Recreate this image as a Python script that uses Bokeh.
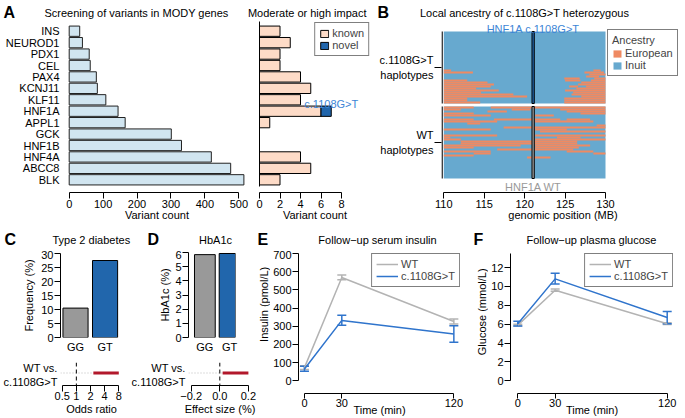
import math
from bokeh.plotting import figure
from bokeh.layouts import row, column
from bokeh.models import (ColumnDataSource, Legend, FixedTicker, Range1d, Span,
                          Whisker, TeeHead, CustomJSTickFormatter)
from bokeh.embed import file_html
from bokeh.resources import INLINE
from bokeh.core.properties import value

# ---------------------------------------------------------------- data
genes = ["INS", "NEUROD1", "PDX1", "CEL", "PAX4", "KCNJ11", "KLF11",
         "HNF1A", "APPL1", "GCK", "HNF1B", "HNF4A", "ABCC8", "BLK"]
variant_counts = [31, 39, 59, 62, 80, 83, 108, 144, 165, 301, 331, 419, 476, 515]
impact_known = [2, 3, 2, 2, 4, 5, 4, 6, 1, 0, 0, 4, 5, 2]
impact_novel = [0, 0, 0, 0, 0, 0, 0, 1, 0, 0, 0, 0, 0, 0]
novel_variant = "c.1108G>T"
count_ticks = [0, 100, 200, 300, 400, 500]
impact_ticks = [0, 2, 4, 6, 8]

haplotypes_per_group = 36
region = [110, 130]
variant_position = 121.05
position_ticks = [110, 115, 120, 125, 130]
group_labels = ["WT\nhaplotypes", "c.1108G>T\nhaplotypes"]
# (haplotype row from top, start MB, end MB) of European segments
carrier_european = [
    (19, 110.0, 110.9), (19, 128.5, 129.4),
    (20, 110.0, 113.6), (20, 127.4, 129.8),
    (21, 128.0, 130.0),
    (22, 127.6, 129.2),
    (23, 124.9, 126.8), (23, 128.6, 130.0),
    (24, 110.0, 112.9), (24, 125.0, 126.9), (24, 128.2, 130.0),
    (25, 110.0, 115.4), (25, 127.0, 130.0),
    (26, 110.0, 116.2), (26, 126.6, 130.0),
    (27, 110.0, 115.8), (27, 125.5, 126.6), (27, 127.6, 130.0),
    (28, 110.0, 114.0), (28, 126.4, 130.0),
    (29, 110.0, 116.8), (29, 125.0, 130.0),
    (30, 110.0, 114.6), (30, 126.0, 130.0),
    (31, 110.0, 118.6), (31, 125.8, 130.0),
    (32, 110.0, 120.3), (32, 127.0, 130.0),
    (33, 110.0, 112.9), (33, 124.9, 130.0),
    (34, 110.0, 112.9), (34, 124.9, 130.0),
    (35, 110.0, 114.5), (35, 124.9, 130.0),
]
wt_european = [
    (0, 110.0, 113.7), (0, 115.8, 130.0),
    (1, 110.0, 112.1), (1, 118.4, 120.7), (1, 124.4, 130.0),
    (2, 115.4, 117.8), (2, 125.2, 130.0),
    (3, 110.0, 113.7), (3, 126.9, 130.0),
    (4, 110.0, 115.8), (4, 121.3, 123.6),
    (6, 110.0, 113.7), (6, 116.2, 124.4), (6, 125.2, 128.1),
    (7, 110.0, 116.6), (7, 121.3, 128.5),
    (8, 112.9, 114.5),
    (9, 128.9, 130.0),
    (10, 117.4, 130.0),
    (11, 110.0, 115.8), (11, 121.3, 125.2),
    (12, 121.9, 130.0),
    (14, 110.0, 116.6), (14, 121.3, 130.0),
    (15, 110.0, 110.8), (15, 124.0, 126.9),
    (16, 110.0, 112.1), (16, 121.3, 130.0),
    (17, 112.1, 126.5),
    (18, 112.1, 126.5),
    (19, 110.0, 119.5), (19, 121.3, 128.1),
    (20, 110.0, 113.7), (20, 121.3, 126.7),
    (21, 116.6, 126.0),
    (22, 110.0, 115.8), (22, 125.2, 128.5),
    (23, 113.7, 115.8), (23, 128.5, 130.0),
    (24, 110.0, 113.7),
    (25, 120.3, 123.2),
]

genotypes = ["GG", "GT"]
t2d_frequency = [10.5, 27.5]
frequency_ticks = [0, 5, 10, 15, 20, 25, 30]
odds_ratio_ci = [2.3, 8.0]
odds_ratio_ticks = [0.5, 1, 2, 4, 8]

hba1c = [5.85, 5.93]
hba1c_ticks = [0, 1, 2, 3, 4, 5, 6]
effect_ci = [0.02, 0.20]
effect_ticks = [-0.2, 0.0, 0.2]
comparison_labels = ["WT vs.", "c.1108G>T"]

times = [0, 30, 120]
insulin_wt = [72, 568, 326]
insulin_wt_low = [62, 555, 312]
insulin_wt_high = [82, 582, 340]
insulin_mut = [65, 332, 257]
insulin_mut_low = [52, 305, 212]
insulin_mut_high = [80, 360, 302]
insulin_ticks = [0, 100, 200, 300, 400, 500, 600, 700]

glucose_wt = [5.9, 9.6, 6.05]
glucose_wt_low = [5.8, 9.48, 5.95]
glucose_wt_high = [6.0, 9.72, 6.15]
glucose_mut = [6.05, 10.8, 6.7]
glucose_mut_low = [5.8, 10.25, 6.05]
glucose_mut_high = [6.3, 11.4, 7.35]
glucose_ticks = [0, 2, 4, 6, 8, 10, 12]

# ---------------------------------------------------------------- style
FONT = "Liberation Sans"
FS = "11px"
LETTER = "16px"
BLACK = "black"
LIGHT_BLUE = "#d1e5f0"
PEACH = "#fddbc7"
DARK_BLUE = "#2166ac"
ORANGE = "#ef8a62"
INUIT = "#67a9cf"
GREY_BAR = "#999999"
RED = "#b2182b"
TEXT_BLUE = "#3d85d6"
WT_GREY = "#b3b3b3"
MUT_BLUE = "#2f74cc"

TOP = 21          # height of the first header strip


def base_fig(width, height, x_range, y_range, borders, x_axis_type="linear", axes=True):
    l, r, t, b = borders
    kw = dict(width=width, height=height, x_range=x_range, y_range=y_range,
              x_axis_type=x_axis_type, output_backend="svg", toolbar_location=None,
              title=None, min_border_left=l, min_border_right=r, min_border_top=t,
              min_border_bottom=b, outline_line_color=None,
              background_fill_color="white", border_fill_color="white")
    if not axes:
        kw.update(x_axis_location=None, y_axis_location=None)
    p = figure(**kw)
    p.xgrid.visible = False
    p.ygrid.visible = False
    return p


def make_fig(box, frm, x_range, y_range, x_axis_type="linear"):
    bx0, by0, bx1, by1 = [round(v) for v in box]
    fx0, fy0, fx1, fy1 = [round(v) for v in frm]
    return base_fig(bx1 - bx0, by1 - by0, x_range, y_range,
                    (fx0 - bx0, bx1 - fx1, fy0 - by0, by1 - fy1), x_axis_type)


def make_canvas(x0, y0, x1, y1):
    # text-only strip; ranges in page pixels (y downwards)
    return base_fig(x1 - x0, y1 - y0, Range1d(x0, x1), Range1d(y1, y0), (0, 0, 0, 0), axes=False)


def put(p, x, y, text, size=FS, color=BLACK, align="center", bold=False, angle=0.0):
    p.text(x=[x], y=[y], text=[text], text_font=value(FONT), text_font_size=value(size),
           text_color=color, text_align=align, text_baseline="middle",
           text_font_style="bold" if bold else "normal", angle=angle)


def style_axis(ax, ticks, bounds=None, tick_out=6, standoff=1, line=True,
               ticks_visible=True, labels=True, label=None, label_standoff=0):
    ax.ticker = FixedTicker(ticks=list(ticks))
    ax.axis_line_color = BLACK if line else None
    ax.axis_line_width = 1
    ax.major_tick_line_color = BLACK if ticks_visible else None
    ax.major_tick_out = tick_out if ticks_visible else 0
    ax.major_tick_in = 0
    ax.minor_tick_line_color = None
    ax.major_label_standoff = standoff
    ax.major_label_text_font = FONT
    ax.major_label_text_font_size = FS
    ax.major_label_text_color = BLACK if labels else None
    if bounds is not None:
        ax.bounds = bounds
    if label is not None:
        ax.axis_label = label
        ax.axis_label_text_font = FONT
        ax.axis_label_text_font_size = FS
        ax.axis_label_text_font_style = "normal"
        ax.axis_label_text_color = BLACK
        ax.axis_label_standoff = label_standoff


def make_legend(items, location, **kw):
    opts = dict(location=location, margin=0, padding=4, spacing=0,
                label_text_font=FONT, label_text_font_size=FS, label_height=11,
                label_standoff=3, glyph_width=10, glyph_height=9,
                border_line_color=BLACK, border_line_width=1,
                background_fill_color="white", background_fill_alpha=1.0)
    opts.update(kw)
    return Legend(items=items, **opts)


def comparison_axis(p):
    # two right-aligned lines left of the interval ("WT vs." above, "c.1108G>T" below)
    ax = p.yaxis[0]
    style_axis(ax, [5.5 / 12.5, -8.5 / 12.5], line=False, ticks_visible=False, standoff=3)
    ax.formatter = CustomJSTickFormatter(args=dict(labels=comparison_labels),
                                         code="return tick > 0 ? labels[0] : labels[1];")


# ================================================================ headers
H1 = make_canvas(0, 0, 685, TOP)
put(H1, 3, 11.5, "A", size=LETTER, bold=True, align="left")
put(H1, 136, 12.5, "Screening of variants in MODY genes")
put(H1, 306.7, 12.5, "Moderate or high impact")
put(H1, 377, 11.5, "B", size=LETTER, bold=True, align="left")
put(H1, 524, 12.5, "Local ancestry of c.1108G>T heterozygous")

H2 = make_canvas(0, 228, 685, 250)
put(H2, 4, 239, "C", size=LETTER, bold=True, align="left")
put(H2, 90.8, 239.5, "Type 2 diabetes")
put(H2, 147, 239, "D", size=LETTER, bold=True, align="left")
put(H2, 215, 239.5, "HbA1c")
put(H2, 257, 239, "E", size=LETTER, bold=True, align="left")
put(H2, 377, 239.5, "Follow\u2212up serum insulin")
put(H2, 473, 239, "F", size=LETTER, bold=True, align="left")
put(H2, 591, 239.5, "Follow\u2212up plasma glucose")

# ================================================================ panel A
row_unit = 11.43      # px per gene row
row0_px = 179.3       # px of the bottom gene row centre
yA = Range1d(-(192 - row0_px) / row_unit, (row0_px - TOP) / row_unit)
rows_y = [len(genes) - 1 - i for i in range(len(genes))]

pA1 = make_fig((0, TOP, 250, 228), (66.6, TOP, 246, 192),
               Range1d(-(68.3 - 66.6) / 0.34, (246 - 68.3) / 0.34), yA)
srcA = ColumnDataSource(dict(y=rows_y, count=variant_counts, known=impact_known))
pA1.hbar(y="y", left=0, right="count", height=0.9, source=srcA,
         fill_color=LIGHT_BLUE, line_color="#222222", line_width=1)
style_axis(pA1.xaxis[0], count_ticks, bounds=(count_ticks[0], count_ticks[-1]),
           label="Variant count", label_standoff=-2)
style_axis(pA1.yaxis[0], rows_y, line=False, ticks_visible=False, standoff=8)
pA1.yaxis[0].major_label_overrides = {y: g for y, g in zip(rows_y, genes)}

pA2 = make_fig((250, TOP, 372, 228), (259, TOP, 370, 192),
               Range1d(0, (370 - 259) / 10.25), yA)
r_known = pA2.hbar(y="y", left=0, right="known", height=0.9, source=srcA,
                   fill_color=PEACH, line_color=BLACK, line_width=1)
nov_y = [y for y, k in zip(rows_y, impact_novel) if k > 0]
nov_l = [k for k, m in zip(impact_known, impact_novel) if m > 0]
nov_r = [k + m for k, m in zip(impact_known, impact_novel) if m > 0]
r_novel = pA2.hbar(y=nov_y, left=nov_l, right=nov_r, height=0.9,
                   fill_color=DARK_BLUE, line_color=BLACK, line_width=1)
pA2.text(x=nov_r, y=[y + 0.45 for y in nov_y], text=[novel_variant] * len(nov_y),
         text_font=value(FONT), text_font_size=value(FS), text_color=TEXT_BLUE,
         text_align="center", text_baseline="alphabetic", y_offset=-2)
style_axis(pA2.xaxis[0], impact_ticks, bounds=(impact_ticks[0], impact_ticks[-1]),
           label="Variant count", label_standoff=-2)
style_axis(pA2.yaxis[0], [], bounds=(-(186 - row0_px) / row_unit, yA.end))
pA2.add_layout(make_legend([("known", [r_known]), ("novel", [r_novel])], "top_right", margin=1))

# ================================================================ panel B
gap = 1.5
n = haplotypes_per_group
bases = [0, n + gap]          # WT group, carrier group
mb_px = (605 - 443.3) / (region[1] - region[0])
pB = make_fig((372, TOP, 685, 228), (441, TOP, 684, 192),
              Range1d(region[0] - (443.3 - 441) / mb_px, region[0] + (684 - 443.3) / mb_px),
              Range1d(-7, bases[1] + n + (31 - TOP) / 2))
r_inuit = pB.quad(left=region[0], right=region[1], bottom=bases, top=[b + n for b in bases],
                  fill_color=INUIT, line_color=None)


def seg_source(segments, base):
    return ColumnDataSource(dict(y=[base + n - r - 0.5 for r, s, e in segments],
                                 left=[s for r, s, e in segments],
                                 right=[e for r, s, e in segments]))


r_euro = None
for segs, base in ((wt_european, bases[0]), (carrier_european, bases[1])):
    r_euro = pB.hbar(y="y", left="left", right="right", height=1.0,
                     source=seg_source(segs, base), fill_color=ORANGE, line_color=None)
pB.quad(left=variant_position - 0.14, right=variant_position + 0.14,
        bottom=bases, top=[b + n for b in bases],
        fill_color=["#a0a0a0", DARK_BLUE], line_color=BLACK, line_width=1)
xline = pB.x_range.start + 0.6 / mb_px
pB.segment(x0=[xline] * 2, x1=[xline] * 2, y0=bases, y1=[b + n for b in bases],
           line_color=BLACK, line_width=1.3)
pB.text(x=[variant_position], y=[bases[1] + n], text=["HNF1A c.1108G>T"],
        text_font=value(FONT), text_font_size=value(FS), text_color=TEXT_BLUE,
        text_align="center", text_baseline="alphabetic", y_offset=-3)
pB.text(x=[variant_position], y=[bases[0]], text=["HNF1A WT"],
        text_font=value(FONT), text_font_size=value(FS), text_color="#999999",
        text_align="center", text_baseline="top", y_offset=2)
style_axis(pB.xaxis[0], position_ticks, bounds=(region[0], region[1]),
           label="genomic position (MB)", label_standoff=-2)
group_centres = [b + n / 2 for b in bases]
style_axis(pB.yaxis[0], group_centres, line=False, tick_out=7, standoff=1)
pB.yaxis[0].major_label_overrides = {c: t for c, t in zip(group_centres, group_labels)}
pB.add_layout(make_legend([("European", [r_euro]), ("Inuit", [r_inuit])],
                          (607 - 441, 192 - 76),
                          title="Ancestry", title_text_font=FONT, title_text_font_size=FS,
                          title_text_font_style="normal", title_standoff=1))

# ================================================================ panel C
xpos = [i + 1 for i in range(len(genotypes))]
bar_colors = [GREY_BAR, DARK_BLUE]
pCb = make_fig((0, 250, 128.5, 355), (60, 253, 124, 337),
               Range1d(1 - (75.5 - 60) / 30.5, 1 + (124 - 75.5) / 30.5),
               Range1d(frequency_ticks[0], frequency_ticks[-1]))
pCb.vbar(x=xpos, top=t2d_frequency, width=0.85, fill_color=bar_colors,
         line_color=BLACK, line_width=1)
style_axis(pCb.xaxis[0], xpos, line=False, ticks_visible=False, standoff=3)
pCb.xaxis[0].major_label_overrides = {x: g for x, g in zip(xpos, genotypes)}
style_axis(pCb.yaxis[0], frequency_ticks, bounds=(frequency_ticks[0], frequency_ticks[-1]),
           tick_out=6, standoff=1, label="Frequency (%)", label_standoff=3)

dbl = 14.15
pCf = make_fig((0, 355, 128.5, 418), (60, 362, 122, 385),
               Range1d(0.5 * 2 ** (-(61.7 - 60) / dbl), 8 * 2 ** ((122 - 118.3) / dbl)),
               Range1d(-1, 10.5 / 12.5), x_axis_type="log")
pCf.segment(x0=[pCf.x_range.start], x1=[odds_ratio_ci[0]], y0=[0], y1=[0],
            line_color="#bbbbbb", line_dash="1 2", line_width=1)
pCf.segment(x0=[odds_ratio_ci[0]], x1=[odds_ratio_ci[1]], y0=[0], y1=[0],
            line_color=RED, line_width=3)
pCf.add_layout(Span(location=1, dimension="height", line_color=BLACK, line_dash="4 3", line_width=1))
style_axis(pCf.xaxis[0], odds_ratio_ticks, bounds=(odds_ratio_ticks[0], odds_ratio_ticks[-1]),
           tick_out=6, standoff=0, label="Odds ratio", label_standoff=0)
pCf.xaxis[0].formatter = CustomJSTickFormatter(code="return tick.toString();")
comparison_axis(pCf)

# ================================================================ panel D
pDb = make_fig((128.5, 250, 242, 355), (181.7, 252.3, 242, 336.7),
               Range1d(1 - (202.7 - 181.7) / 31.7, 1 + (242 - 202.7) / 31.7),
               Range1d(hba1c_ticks[0], hba1c_ticks[-1]))
pDb.vbar(x=xpos, top=hba1c, width=0.84, fill_color=bar_colors, line_color=BLACK, line_width=1)
style_axis(pDb.xaxis[0], xpos, line=False, ticks_visible=False, standoff=3)
pDb.xaxis[0].major_label_overrides = {x: g for x, g in zip(xpos, genotypes)}
style_axis(pDb.yaxis[0], hba1c_ticks, bounds=(hba1c_ticks[0], hba1c_ticks[-1]),
           tick_out=6, standoff=1, label="HbA1c (%)", label_standoff=1)

eff_px = 143.0
pDf = make_fig((128.5, 355, 257.5, 418), (188, 362, 251, 385),
               Range1d((188 - 219.3) / eff_px, (251 - 219.3) / eff_px),
               Range1d(-1, 10.5 / 12.5))
pDf.segment(x0=[pDf.x_range.start], x1=[effect_ci[0]], y0=[0], y1=[0],
            line_color="#bbbbbb", line_dash="1 2", line_width=1)
pDf.segment(x0=[effect_ci[0]], x1=[effect_ci[1]], y0=[0], y1=[0], line_color=RED, line_width=3)
pDf.add_layout(Span(location=0, dimension="height", line_color=BLACK, line_dash="4 3", line_width=1))
style_axis(pDf.xaxis[0], effect_ticks, bounds=(effect_ticks[0], effect_ticks[-1]),
           tick_out=6, standoff=0, label="Effect size (%)", label_standoff=0)
pDf.xaxis[0].formatter = CustomJSTickFormatter(
    code="return (tick < -1e-9 ? '\u2212' : '') + Math.abs(tick).toFixed(1);")
comparison_axis(pDf)


# ================================================================ panels E, F
def time_panel(box, frm, xr, yr, wt, wt_lo, wt_hi, mu, mu_lo, mu_hi, yticks):
    p = make_fig(box, frm, xr, yr)
    r_wt = p.line(times, wt, line_color=WT_GREY, line_width=1.5)
    src_wt = ColumnDataSource(dict(t=times, lo=wt_lo, hi=wt_hi))
    p.add_layout(Whisker(source=src_wt, base="t", lower="lo", upper="hi",
                         line_color=WT_GREY, line_width=1.5,
                         upper_head=TeeHead(size=9, line_color=WT_GREY, line_width=1.5),
                         lower_head=TeeHead(size=9, line_color=WT_GREY, line_width=1.5)))
    r_mu = p.line(times, mu, line_color=MUT_BLUE, line_width=1.5)
    src_mu = ColumnDataSource(dict(t=times, lo=mu_lo, hi=mu_hi))
    p.add_layout(Whisker(source=src_mu, base="t", lower="lo", upper="hi",
                         line_color=MUT_BLUE, line_width=1.5,
                         upper_head=TeeHead(size=9, line_color=MUT_BLUE, line_width=1.5),
                         lower_head=TeeHead(size=9, line_color=MUT_BLUE, line_width=1.5)))
    style_axis(p.xaxis[0], times, bounds=(times[0], times[-1]), tick_out=5, standoff=0,
               label="Time (min)", label_standoff=-6)
    style_axis(p.yaxis[0], yticks, bounds=(yticks[0], yr.end), tick_out=6, standoff=1)
    p.add_layout(make_legend([("WT", [r_wt]), ("c.1108G>T", [r_mu])], "top_right",
                             glyph_width=22, glyph_height=12, label_height=12, padding=4))
    return p


sE = make_canvas(258, 250, 270, 418)
put(sE, 263, 311, "Insulin (pmol/L)", angle=math.pi / 2)
pE = time_panel((270, 250, 466, 418), (296.7, 253.3, 460, 392.7),
                Range1d(-(302.7 - 296.7) / 1.255, (460 - 302.7) / 1.255),
                Range1d(-insulin_ticks[-1] * (392.7 - 380) / (380 - 253.3), insulin_ticks[-1]),
                insulin_wt, insulin_wt_low, insulin_wt_high,
                insulin_mut, insulin_mut_low, insulin_mut_high, insulin_ticks)

gl_px = (380 - 267.3) / 12.0
sF = make_canvas(466, 250, 488, 418)
put(sF, 481.7, 320, "Glucose (mmol/L)", angle=math.pi / 2)
pF = time_panel((488, 250, 685, 418), (510, 253.3, 673, 392.7),
                Range1d(-(517.3 - 510) / 1.245, (673 - 517.3) / 1.245),
                Range1d(-(392.7 - 380) / gl_px, (380 - 253.3) / gl_px),
                glucose_wt, glucose_wt_low, glucose_wt_high,
                glucose_mut, glucose_mut_low, glucose_mut_high, glucose_ticks)

layout = column(H1,
                row(pA1, pA2, pB),
                H2,
                row(column(pCb, pCf), column(pDb, pDf), sE, pE, sF, pF))

open("out.html", "w").write(file_html(layout, INLINE))
